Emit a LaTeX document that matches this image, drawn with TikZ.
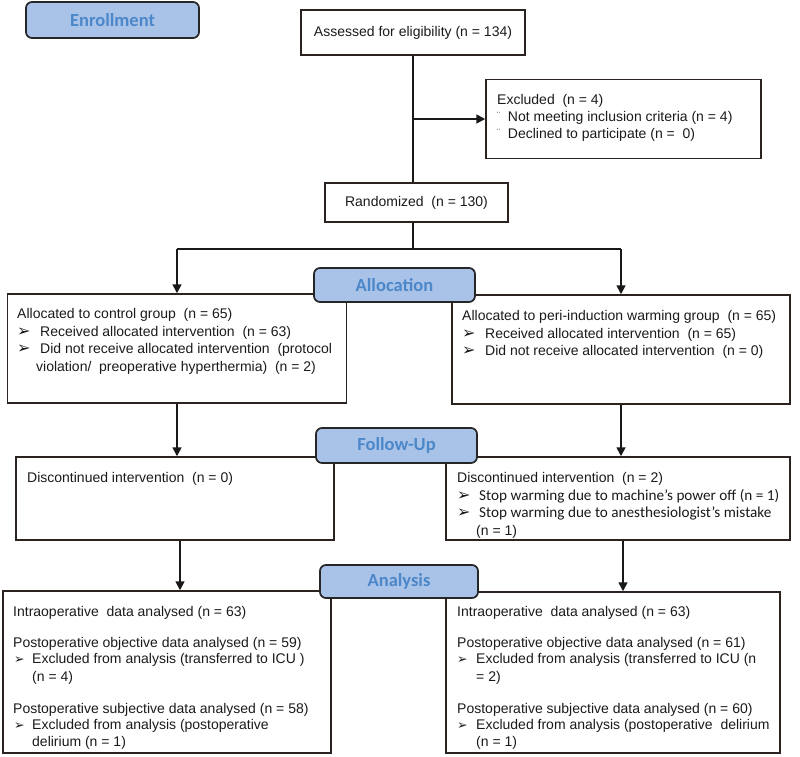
\documentclass[tikz,border=0pt]{standalone}
\usepackage{fontspec}
\setmainfont{Liberation Sans}
\newfontfamily\calfont{Carlito}
\newfontfamily\djfont{DejaVu Sans}
\usetikzlibrary{arrows.meta}
\definecolor{hdrfill}{HTML}{A9C3E8}
\definecolor{hdrtext}{HTML}{4C87C9}
\definecolor{boxline}{HTML}{2B2320}
\definecolor{txtcol}{HTML}{1A1A1A}
\newcommand\bigarr{{\djfont\fontsize{16}{16}\selectfont ➢}}
\newcommand\smallarr{{\djfont\fontsize{12.5}{12}\selectfont ➢}}
\begin{document}
\begin{tikzpicture}[x=1pt,y=-1pt,
  box/.style={draw=boxline,line width=1.5pt,rectangle,inner sep=0pt},
  hdr/.style={draw=black!85,line width=1.7pt,rounded corners=6pt,fill=hdrfill,inner sep=0pt,
    font=\calfont\bfseries\fontsize{18.5}{20}\selectfont,text=hdrtext},
  txt/.style={anchor=base west,inner sep=0pt,text=txtcol,font=\fontsize{14}{16}\selectfont},
  ctxt/.style={text=txtcol,font=\fontsize{14}{16}\selectfont},
  arr/.style={draw=black!90,line width=1.7pt,-{Triangle[length=9pt,width=9pt]}},
  ln/.style={draw=black!90,line width=1.7pt}]
\useasboundingbox (0,0) rectangle (800,756);

% boxes
\node[box,ctxt,minimum width=224,minimum height=45] (assess) at (413,32.5) {Assessed for eligibility (n = 134)};
\node[box,minimum width=275,minimum height=79] (excl) at (623.5,119) {};
\node[box,ctxt,minimum width=183,minimum height=39] (rand) at (416.5,202.5) {Randomized\ \ (n = 130)};
\node[box,minimum width=339,minimum height=109] (al1) at (177,348.5) {};
\node[box,minimum width=338,minimum height=109] (al2) at (621,349.5) {};
\node[box,minimum width=318,minimum height=83] (fu1) at (175,498.5) {};
\node[box,minimum width=344,minimum height=83] (fu2) at (618,498.5) {};
\node[box,minimum width=328,minimum height=162] (an1) at (167,672) {};
\node[box,minimum width=334,minimum height=161] (an2) at (613,672.5) {};

% connectors
\coordinate (split) at (413,249);
\draw[ln] (assess.south) -- (assess.south |- rand.north);
\draw[arr] (assess.south |- excl.west) -- (excl.west);
\draw[ln] (split |- rand.south) -- (split);
\draw[ln] (al1.north |- split) -- (al2.north |- split);
\draw[arr] (al1.north |- split) -- (al1.north);
\draw[arr] (al2.north |- split) -- (al2.north);
\draw[arr] (al1.south) -- (al1.south |- fu1.north);
\draw[arr] (al2.south) -- (al2.south |- fu2.north);
\draw[arr] ([xshift=5pt]fu1.south) -- ([xshift=5pt]fu1.south |- an1.north);
\draw[arr] ([xshift=5pt]fu2.south) -- ([xshift=5pt]fu2.south |- an2.north);

% excluded text
\node[txt] (e1) at (497,104) {Excluded\ \ (n = 4)};
\node[txt] (e2) at (497,121) {\raisebox{3pt}{\fontsize{9}{9}\selectfont ¨}\ \ Not meeting inclusion criteria (n = 4)};
\node[txt] (e3) at (497,138) {\raisebox{3pt}{\fontsize{9}{9}\selectfont ¨}\ \ Declined to participate (n =\ \ 0)};

% allocation left
\node[txt] (a1) at (17,318) {Allocated to control group\ \ (n = 65)};
\node[txt] (a2b) at (17,336) {\bigarr};
\node[txt] (a2) at (40,336) {Received allocated intervention\ \ (n = 63)};
\node[txt] (a3b) at (17,353) {\bigarr};
\node[txt] (a3) at (40,353) {Did not receive allocated intervention\ \ (protocol};
\node[txt] (a4) at (36,371) {violation/\ \ preoperative hyperthermia)\ \ (n = 2)};

% allocation right
\node[txt] (b1) at (462,320) {Allocated to peri-induction warming group\ \ (n = 65)};
\node[txt] (b2b) at (462,338) {\bigarr};
\node[txt] (b2) at (485,338) {Received allocated intervention\ \ (n = 65)};
\node[txt] (b3b) at (462,355) {\bigarr};
\node[txt] (b3) at (485,355) {Did not receive allocated intervention\ \ (n = 0)};

% follow-up
\node[txt] (f1) at (27,482) {Discontinued intervention\ \ (n = 0)};
\node[txt] (g1) at (457,482) {Discontinued intervention\ \ (n = 2)};
\node[txt] (g2b) at (457,500) {\bigarr};
\node[txt,font=\calfont\fontsize{15.2}{17}\selectfont] (g2) at (479,500) {Stop warming\ due to machine’s power off (n = 1)};
\node[txt] (g3b) at (457,517) {\bigarr};
\node[txt,font=\calfont\fontsize{15.2}{17}\selectfont] (g3) at (479,517) {Stop warming due to anesthesiologist’s mistake};
\node[txt] (g4) at (476,535) {(n = 1)};

% analysis left
\node[txt] (l1) at (13,616) {Intraoperative\ \ data analysed (n = 63)};
\node[txt] (l2) at (13,647) {Postoperative objective data analysed (n = 59)};
\node[txt] (l3b) at (14,663) {\smallarr};
\node[txt] (l3) at (32,663) {Excluded from analysis (transferred to ICU\ )};
\node[txt] (l4) at (32,681) {(n = 4)};
\node[txt] (l5) at (13,713) {Postoperative subjective data analysed (n = 58)};
\node[txt] (l6b) at (14,729) {\smallarr};
\node[txt] (l6) at (32,729) {Excluded from analysis (postoperative};
\node[txt] (l7) at (32,746) {delirium\ (n = 1)};

% analysis right
\node[txt] (r1) at (457,616) {Intraoperative\ \ data analysed (n = 63)};
\node[txt] (r2) at (457,647) {Postoperative objective data analysed (n = 61)};
\node[txt] (r3b) at (457,663) {\smallarr};
\node[txt] (r3) at (476,663) {Excluded from analysis (transferred to ICU (n};
\node[txt] (r4) at (476,681) {= 2)};
\node[txt] (r5) at (457,713) {Postoperative subjective data analysed (n = 60)};
\node[txt] (r6b) at (457,729) {\smallarr};
\node[txt] (r6) at (476,729) {Excluded from analysis (postoperative\ \ delirium};
\node[txt] (r7) at (476,746) {(n = 1)};

% headers
\node[hdr,minimum width=173,minimum height=36] (enr) at (112.5,20) {Enrollment};
\node[hdr,minimum width=161,minimum height=34] (alloc) at (394.5,285) {Allocation};
\node[hdr,minimum width=161,minimum height=35] (fup) at (396.5,445.5) {Follow-Up};
\node[hdr,minimum width=158,minimum height=33] (anal) at (399,581.5) {Analysis};
\end{tikzpicture}
\end{document}
